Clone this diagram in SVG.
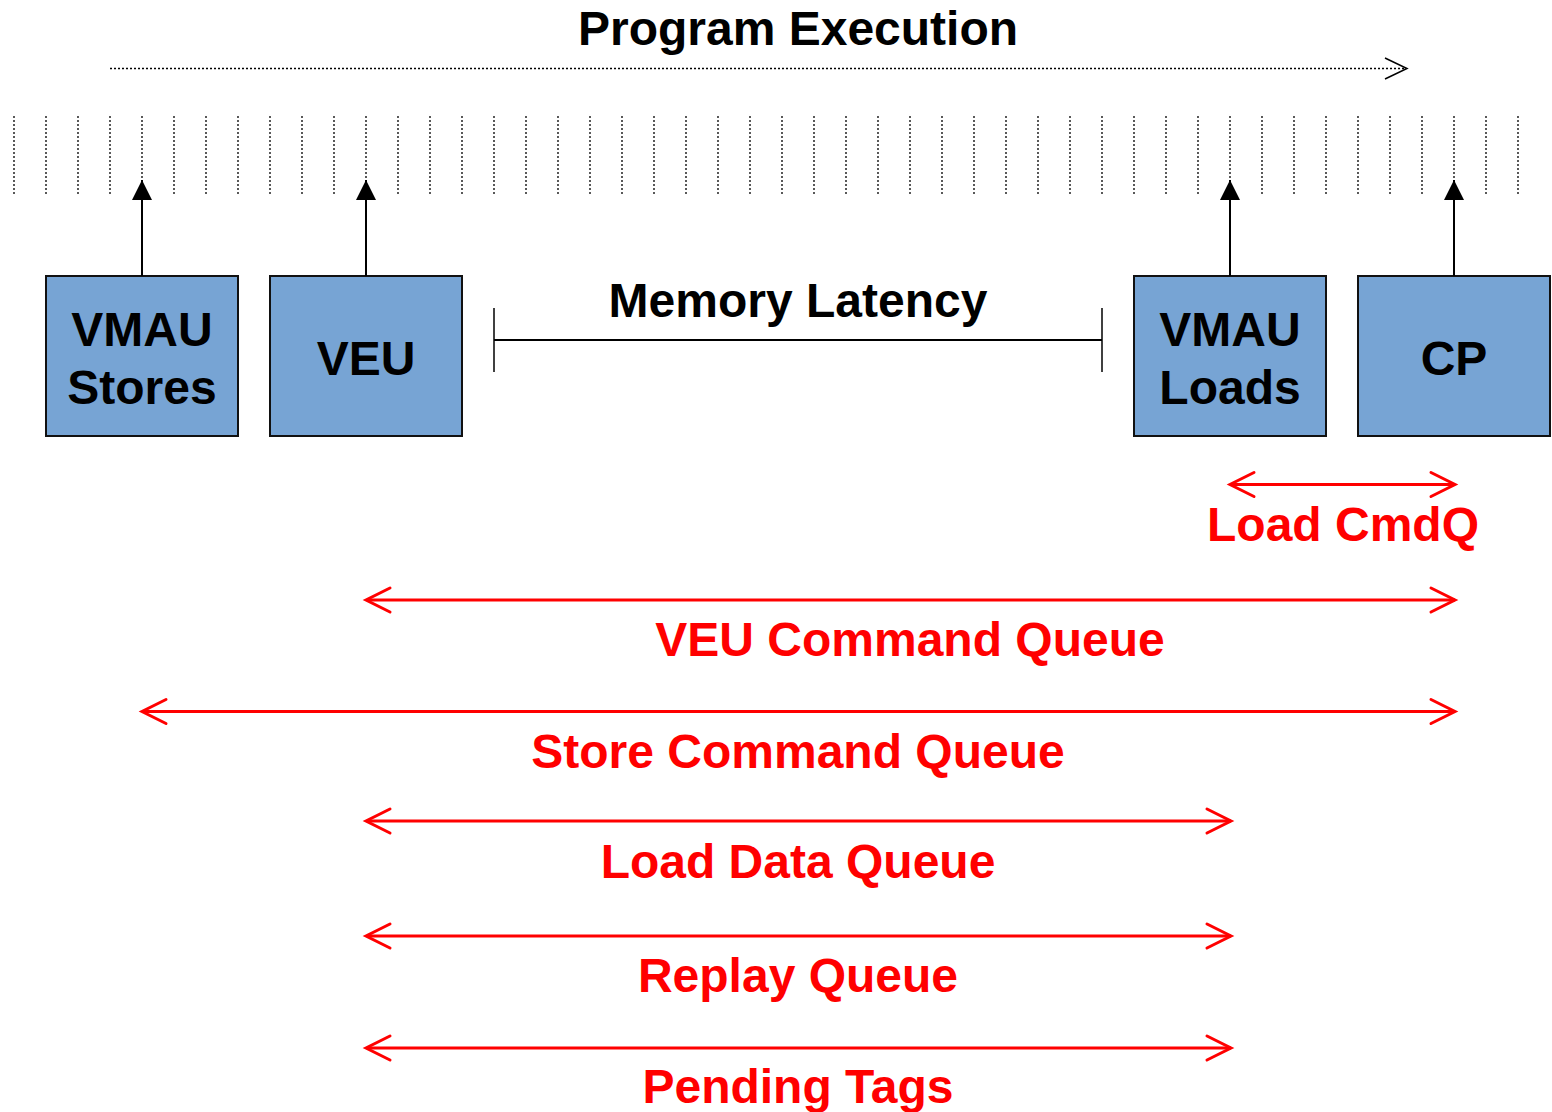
<svg xmlns="http://www.w3.org/2000/svg" width="1552" height="1112" viewBox="0 0 1552 1112">
  <style>
    .title { font-family: "Liberation Sans", Arial, sans-serif; font-weight: bold; font-size: 48px; fill: #000; text-anchor: middle; }
    .queue { font-family: "Liberation Sans", Arial, sans-serif; font-weight: bold; font-size: 48px; fill: #ff0000; text-anchor: middle; }
    .unit rect { fill: #77a4d4; stroke: #111; stroke-width: 2; }
    .tick { stroke: #000; stroke-width: 1.3; stroke-dasharray: 2 2; }
    .issue { stroke: #000; stroke-width: 2; fill: none; }
    .span { stroke: #ff0000; stroke-width: 3; fill: none; }
    .head { stroke: #ff0000; stroke-width: 3; fill: none; stroke-linecap: round; stroke-linejoin: miter; }
  </style>
  <defs>
    <!-- solid triangular head, drawn along +x and turned to follow the line -->
    <marker id="up" viewBox="0 0 20 20" refX="20" refY="10" markerWidth="20" markerHeight="20" markerUnits="userSpaceOnUse" orient="auto">
      <path d="M0,0 L20,10 L0,20 Z" fill="#000"/>
    </marker>
  </defs>

  <rect width="1552" height="1112" fill="#fff"/>

  <!-- time axis -->
  <g id="program-execution">
    <text class="title" x="798" y="45">Program Execution</text>
    <line x1="110" y1="68.5" x2="1406" y2="68.5" stroke="#000" stroke-width="1.3" stroke-dasharray="2 2"/>
    <polyline points="1385,58 1407,68.5 1385,79" fill="none" stroke="#000" stroke-width="1.5"/>
  </g>

  <!-- instruction slots -->
  <g id="slots">
    <line class="tick" x1="14" y1="116" x2="14" y2="196"/>
    <line class="tick" x1="46" y1="116" x2="46" y2="196"/>
    <line class="tick" x1="78" y1="116" x2="78" y2="196"/>
    <line class="tick" x1="110" y1="116" x2="110" y2="196"/>
    <line class="tick" x1="142" y1="116" x2="142" y2="196"/>
    <line class="tick" x1="174" y1="116" x2="174" y2="196"/>
    <line class="tick" x1="206" y1="116" x2="206" y2="196"/>
    <line class="tick" x1="238" y1="116" x2="238" y2="196"/>
    <line class="tick" x1="270" y1="116" x2="270" y2="196"/>
    <line class="tick" x1="302" y1="116" x2="302" y2="196"/>
    <line class="tick" x1="334" y1="116" x2="334" y2="196"/>
    <line class="tick" x1="366" y1="116" x2="366" y2="196"/>
    <line class="tick" x1="398" y1="116" x2="398" y2="196"/>
    <line class="tick" x1="430" y1="116" x2="430" y2="196"/>
    <line class="tick" x1="462" y1="116" x2="462" y2="196"/>
    <line class="tick" x1="494" y1="116" x2="494" y2="196"/>
    <line class="tick" x1="526" y1="116" x2="526" y2="196"/>
    <line class="tick" x1="558" y1="116" x2="558" y2="196"/>
    <line class="tick" x1="590" y1="116" x2="590" y2="196"/>
    <line class="tick" x1="622" y1="116" x2="622" y2="196"/>
    <line class="tick" x1="654" y1="116" x2="654" y2="196"/>
    <line class="tick" x1="686" y1="116" x2="686" y2="196"/>
    <line class="tick" x1="718" y1="116" x2="718" y2="196"/>
    <line class="tick" x1="750" y1="116" x2="750" y2="196"/>
    <line class="tick" x1="782" y1="116" x2="782" y2="196"/>
    <line class="tick" x1="814" y1="116" x2="814" y2="196"/>
    <line class="tick" x1="846" y1="116" x2="846" y2="196"/>
    <line class="tick" x1="878" y1="116" x2="878" y2="196"/>
    <line class="tick" x1="910" y1="116" x2="910" y2="196"/>
    <line class="tick" x1="942" y1="116" x2="942" y2="196"/>
    <line class="tick" x1="974" y1="116" x2="974" y2="196"/>
    <line class="tick" x1="1006" y1="116" x2="1006" y2="196"/>
    <line class="tick" x1="1038" y1="116" x2="1038" y2="196"/>
    <line class="tick" x1="1070" y1="116" x2="1070" y2="196"/>
    <line class="tick" x1="1102" y1="116" x2="1102" y2="196"/>
    <line class="tick" x1="1134" y1="116" x2="1134" y2="196"/>
    <line class="tick" x1="1166" y1="116" x2="1166" y2="196"/>
    <line class="tick" x1="1198" y1="116" x2="1198" y2="196"/>
    <line class="tick" x1="1230" y1="116" x2="1230" y2="196"/>
    <line class="tick" x1="1262" y1="116" x2="1262" y2="196"/>
    <line class="tick" x1="1294" y1="116" x2="1294" y2="196"/>
    <line class="tick" x1="1326" y1="116" x2="1326" y2="196"/>
    <line class="tick" x1="1358" y1="116" x2="1358" y2="196"/>
    <line class="tick" x1="1390" y1="116" x2="1390" y2="196"/>
    <line class="tick" x1="1422" y1="116" x2="1422" y2="196"/>
    <line class="tick" x1="1454" y1="116" x2="1454" y2="196"/>
    <line class="tick" x1="1486" y1="116" x2="1486" y2="196"/>
    <line class="tick" x1="1518" y1="116" x2="1518" y2="196"/>
  </g>

  <!-- units -->
  <g id="vmau-stores" class="unit">
    <rect x="46" y="276" width="192" height="160"/>
    <text class="title" x="142" y="346">VMAU</text>
    <text class="title" x="142" y="404">Stores</text>
  </g>
  <g id="veu" class="unit">
    <rect x="270" y="276" width="192" height="160"/>
    <text class="title" x="366" y="375">VEU</text>
  </g>
  <g id="vmau-loads" class="unit">
    <rect x="1134" y="276" width="192" height="160"/>
    <text class="title" x="1230" y="346">VMAU</text>
    <text class="title" x="1230" y="404">Loads</text>
  </g>
  <g id="cp" class="unit">
    <rect x="1358" y="276" width="192" height="160"/>
    <text class="title" x="1454" y="375">CP</text>
  </g>

  <!-- memory latency span -->
  <g id="memory-latency">
    <text class="title" x="798" y="317">Memory Latency</text>
    <line x1="494" y1="340" x2="1102" y2="340" stroke="#000" stroke-width="2"/>
    <line x1="494" y1="308" x2="494" y2="372" stroke="#000" stroke-width="1.5"/>
    <line x1="1102" y1="308" x2="1102" y2="372" stroke="#000" stroke-width="1.5"/>
  </g>

  <!-- connectors -->
  <g id="connectors">
    <line class="issue" x1="142" y1="276" x2="142" y2="180" marker-end="url(#up)"/>
    <line class="issue" x1="366" y1="276" x2="366" y2="180" marker-end="url(#up)"/>
    <line class="issue" x1="1230" y1="276" x2="1230" y2="180" marker-end="url(#up)"/>
    <line class="issue" x1="1454" y1="276" x2="1454" y2="180" marker-end="url(#up)"/>

    <!-- Load CmdQ -->
    <line class="span" x1="1230" y1="484.5" x2="1455" y2="484.5"/>
    <polyline class="head" points="1254,472.5 1230,484.5 1254,496.5"/>
    <polyline class="head" points="1431,472.5 1455,484.5 1431,496.5"/>

    <!-- VEU Command Queue -->
    <line class="span" x1="367" y1="600" x2="1455" y2="600"/>
    <polyline class="head" points="390,588 366,600 390,612"/>
    <polyline class="head" points="1431,588 1455,600 1431,612"/>

    <!-- Store Command Queue -->
    <line class="span" x1="143" y1="711.5" x2="1455" y2="711.5"/>
    <polyline class="head" points="166,699.5 142,711.5 166,723.5"/>
    <polyline class="head" points="1431,699.5 1455,711.5 1431,723.5"/>

    <!-- Load Data Queue -->
    <line class="span" x1="367" y1="821" x2="1231" y2="821"/>
    <polyline class="head" points="390,809 366,821 390,833"/>
    <polyline class="head" points="1207,809 1231,821 1207,833"/>

    <!-- Replay Queue -->
    <line class="span" x1="367" y1="936" x2="1231" y2="936"/>
    <polyline class="head" points="390,924 366,936 390,948"/>
    <polyline class="head" points="1207,924 1231,936 1207,948"/>

    <!-- Pending Tags -->
    <line class="span" x1="367" y1="1048" x2="1231" y2="1048"/>
    <polyline class="head" points="390,1036 366,1048 390,1060"/>
    <polyline class="head" points="1207,1036 1231,1048 1207,1060"/>
  </g>

  <!-- queue labels -->
  <g id="queue-labels">
    <text class="queue" x="1343" y="541">Load CmdQ</text>
    <text class="queue" x="910" y="656">VEU Command Queue</text>
    <text class="queue" x="798" y="768">Store Command Queue</text>
    <text class="queue" x="798" y="878">Load Data Queue</text>
    <text class="queue" x="798" y="992">Replay Queue</text>
    <text class="queue" x="798" y="1103">Pending Tags</text>
  </g>
</svg>
